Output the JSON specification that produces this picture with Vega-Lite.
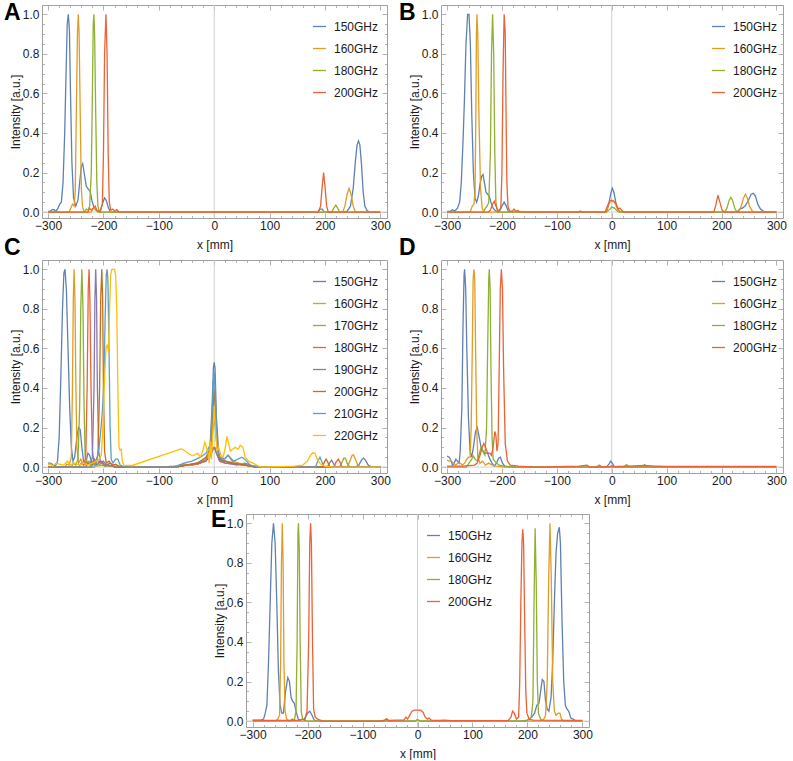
{
  "$schema": "https://vega.github.io/schema/vega-lite/v6.json",
  "padding": {"left": 3, "top": 1, "right": 2, "bottom": 0},
  "background": "white",
  "datasets": {
    "d": [
      {"p":"A","f":"150GHz","x":-300,"y":0.003},{"p":"A","f":"150GHz","x":-296,"y":0.005},{"p":"A","f":"150GHz","x":-292,"y":0.012},{"p":"A","f":"150GHz","x":-289,"y":0.012},{"p":"A","f":"150GHz","x":-286,"y":0.003},{"p":"A","f":"150GHz","x":-282,"y":0.02},{"p":"A","f":"150GHz","x":-279,"y":0.04},{"p":"A","f":"150GHz","x":-276,"y":0.05},{"p":"A","f":"150GHz","x":-273,"y":0.15},{"p":"A","f":"150GHz","x":-270,"y":0.4},{"p":"A","f":"150GHz","x":-268,"y":0.65},{"p":"A","f":"150GHz","x":-265.5,"y":0.95},{"p":"A","f":"150GHz","x":-263.5,"y":1},{"p":"A","f":"150GHz","x":-261.5,"y":0.92},{"p":"A","f":"150GHz","x":-259.5,"y":0.6},{"p":"A","f":"150GHz","x":-257,"y":0.25},{"p":"A","f":"150GHz","x":-254,"y":0.07},{"p":"A","f":"150GHz","x":-250,"y":0.03},{"p":"A","f":"150GHz","x":-246,"y":0.06},{"p":"A","f":"150GHz","x":-243,"y":0.15},{"p":"A","f":"150GHz","x":-240,"y":0.23},{"p":"A","f":"150GHz","x":-237.5,"y":0.245},{"p":"A","f":"150GHz","x":-235,"y":0.2},{"p":"A","f":"150GHz","x":-231,"y":0.13},{"p":"A","f":"150GHz","x":-227,"y":0.115},{"p":"A","f":"150GHz","x":-224,"y":0.105},{"p":"A","f":"150GHz","x":-221,"y":0.06},{"p":"A","f":"150GHz","x":-217,"y":0.02},{"p":"A","f":"150GHz","x":-212,"y":0.005},{"p":"A","f":"150GHz","x":-206,"y":0.005},{"p":"A","f":"150GHz","x":-202,"y":0.04},{"p":"A","f":"150GHz","x":-198,"y":0.072},{"p":"A","f":"150GHz","x":-195,"y":0.06},{"p":"A","f":"150GHz","x":-191,"y":0.02},{"p":"A","f":"150GHz","x":-187,"y":0},{"p":"A","f":"150GHz","x":187,"y":0},{"p":"A","f":"150GHz","x":191,"y":0.015},{"p":"A","f":"150GHz","x":195,"y":0.015},{"p":"A","f":"150GHz","x":199,"y":0},{"p":"A","f":"150GHz","x":234,"y":0},{"p":"A","f":"150GHz","x":240,"y":0.005},{"p":"A","f":"150GHz","x":246,"y":0.03},{"p":"A","f":"150GHz","x":251,"y":0.12},{"p":"A","f":"150GHz","x":255,"y":0.26},{"p":"A","f":"150GHz","x":258,"y":0.34},{"p":"A","f":"150GHz","x":260.5,"y":0.36},{"p":"A","f":"150GHz","x":263,"y":0.34},{"p":"A","f":"150GHz","x":266,"y":0.24},{"p":"A","f":"150GHz","x":269,"y":0.1},{"p":"A","f":"150GHz","x":272,"y":0.03},{"p":"A","f":"150GHz","x":276,"y":0.008},{"p":"A","f":"150GHz","x":281,"y":0},{"p":"A","f":"150GHz","x":300,"y":0},
      {"p":"A","f":"160GHz","x":-300,"y":0},{"p":"A","f":"160GHz","x":-262,"y":0},{"p":"A","f":"160GHz","x":-259,"y":0.02},{"p":"A","f":"160GHz","x":-256,"y":0.04},{"p":"A","f":"160GHz","x":-253,"y":0.03},{"p":"A","f":"160GHz","x":-251,"y":0.1},{"p":"A","f":"160GHz","x":-249,"y":0.5},{"p":"A","f":"160GHz","x":-247,"y":0.9},{"p":"A","f":"160GHz","x":-245.5,"y":1},{"p":"A","f":"160GHz","x":-244,"y":0.9},{"p":"A","f":"160GHz","x":-242,"y":0.5},{"p":"A","f":"160GHz","x":-240,"y":0.12},{"p":"A","f":"160GHz","x":-238,"y":0.03},{"p":"A","f":"160GHz","x":-235,"y":0},{"p":"A","f":"160GHz","x":-222,"y":0},{"p":"A","f":"160GHz","x":-218,"y":0.02},{"p":"A","f":"160GHz","x":-214,"y":0.015},{"p":"A","f":"160GHz","x":-210,"y":0},{"p":"A","f":"160GHz","x":232,"y":0},{"p":"A","f":"160GHz","x":236,"y":0.03},{"p":"A","f":"160GHz","x":240,"y":0.09},{"p":"A","f":"160GHz","x":243.5,"y":0.12},{"p":"A","f":"160GHz","x":247,"y":0.09},{"p":"A","f":"160GHz","x":251,"y":0.03},{"p":"A","f":"160GHz","x":255,"y":0},{"p":"A","f":"160GHz","x":300,"y":0},
      {"p":"A","f":"180GHz","x":-300,"y":0},{"p":"A","f":"180GHz","x":-235,"y":0},{"p":"A","f":"180GHz","x":-231,"y":0.015},{"p":"A","f":"180GHz","x":-228,"y":0.01},{"p":"A","f":"180GHz","x":-225,"y":0.03},{"p":"A","f":"180GHz","x":-222,"y":0.2},{"p":"A","f":"180GHz","x":-220,"y":0.6},{"p":"A","f":"180GHz","x":-218.5,"y":0.95},{"p":"A","f":"180GHz","x":-217.3,"y":1},{"p":"A","f":"180GHz","x":-216,"y":0.9},{"p":"A","f":"180GHz","x":-214,"y":0.5},{"p":"A","f":"180GHz","x":-212,"y":0.15},{"p":"A","f":"180GHz","x":-210,"y":0.03},{"p":"A","f":"180GHz","x":-207,"y":0},{"p":"A","f":"180GHz","x":212,"y":0},{"p":"A","f":"180GHz","x":216,"y":0.02},{"p":"A","f":"180GHz","x":219.5,"y":0.035},{"p":"A","f":"180GHz","x":223,"y":0.02},{"p":"A","f":"180GHz","x":226,"y":0},{"p":"A","f":"180GHz","x":300,"y":0},
      {"p":"A","f":"200GHz","x":-300,"y":0},{"p":"A","f":"200GHz","x":-228,"y":0},{"p":"A","f":"200GHz","x":-225,"y":0.02},{"p":"A","f":"200GHz","x":-222,"y":0.01},{"p":"A","f":"200GHz","x":-219,"y":0.02},{"p":"A","f":"200GHz","x":-215,"y":0.03},{"p":"A","f":"200GHz","x":-212,"y":0.01},{"p":"A","f":"200GHz","x":-206,"y":0},{"p":"A","f":"200GHz","x":-202,"y":0.04},{"p":"A","f":"200GHz","x":-200,"y":0.3},{"p":"A","f":"200GHz","x":-198,"y":0.8},{"p":"A","f":"200GHz","x":-195.5,"y":1},{"p":"A","f":"200GHz","x":-193.5,"y":0.8},{"p":"A","f":"200GHz","x":-191.5,"y":0.3},{"p":"A","f":"200GHz","x":-189.5,"y":0.05},{"p":"A","f":"200GHz","x":-187,"y":0.01},{"p":"A","f":"200GHz","x":-183,"y":0.015},{"p":"A","f":"200GHz","x":-180,"y":0.005},{"p":"A","f":"200GHz","x":-176,"y":0.012},{"p":"A","f":"200GHz","x":-172,"y":0},{"p":"A","f":"200GHz","x":188,"y":0},{"p":"A","f":"200GHz","x":192,"y":0.03},{"p":"A","f":"200GHz","x":195,"y":0.13},{"p":"A","f":"200GHz","x":197.5,"y":0.2},{"p":"A","f":"200GHz","x":200,"y":0.13},{"p":"A","f":"200GHz","x":203,"y":0.03},{"p":"A","f":"200GHz","x":206,"y":0},{"p":"A","f":"200GHz","x":300,"y":0},

      {"p":"B","f":"150GHz","x":-300,"y":0.003},{"p":"B","f":"150GHz","x":-294,"y":0.005},{"p":"B","f":"150GHz","x":-290,"y":0.012},{"p":"B","f":"150GHz","x":-286,"y":0.005},{"p":"B","f":"150GHz","x":-281,"y":0.02},{"p":"B","f":"150GHz","x":-277,"y":0.05},{"p":"B","f":"150GHz","x":-274,"y":0.15},{"p":"B","f":"150GHz","x":-271,"y":0.35},{"p":"B","f":"150GHz","x":-268.5,"y":0.55},{"p":"B","f":"150GHz","x":-265.5,"y":0.85},{"p":"B","f":"150GHz","x":-262.5,"y":1},{"p":"B","f":"150GHz","x":-260,"y":1},{"p":"B","f":"150GHz","x":-257.5,"y":0.85},{"p":"B","f":"150GHz","x":-255,"y":0.5},{"p":"B","f":"150GHz","x":-252,"y":0.2},{"p":"B","f":"150GHz","x":-249,"y":0.07},{"p":"B","f":"150GHz","x":-246,"y":0.05},{"p":"B","f":"150GHz","x":-243,"y":0.08},{"p":"B","f":"150GHz","x":-240,"y":0.14},{"p":"B","f":"150GHz","x":-237,"y":0.18},{"p":"B","f":"150GHz","x":-234.5,"y":0.19},{"p":"B","f":"150GHz","x":-232,"y":0.15},{"p":"B","f":"150GHz","x":-229,"y":0.1},{"p":"B","f":"150GHz","x":-226,"y":0.09},{"p":"B","f":"150GHz","x":-223,"y":0.08},{"p":"B","f":"150GHz","x":-220,"y":0.05},{"p":"B","f":"150GHz","x":-216,"y":0.02},{"p":"B","f":"150GHz","x":-211,"y":0.005},{"p":"B","f":"150GHz","x":-205,"y":0},{"p":"B","f":"150GHz","x":-200,"y":0.03},{"p":"B","f":"150GHz","x":-196,"y":0.05},{"p":"B","f":"150GHz","x":-192,"y":0.03},{"p":"B","f":"150GHz","x":-188,"y":0},{"p":"B","f":"150GHz","x":-10,"y":0},{"p":"B","f":"150GHz","x":-6,"y":0.03},{"p":"B","f":"150GHz","x":-2,"y":0.09},{"p":"B","f":"150GHz","x":1,"y":0.12},{"p":"B","f":"150GHz","x":4,"y":0.1},{"p":"B","f":"150GHz","x":8,"y":0.04},{"p":"B","f":"150GHz","x":12,"y":0.01},{"p":"B","f":"150GHz","x":16,"y":0},{"p":"B","f":"150GHz","x":228,"y":0},{"p":"B","f":"150GHz","x":233,"y":0.015},{"p":"B","f":"150GHz","x":238,"y":0.02},{"p":"B","f":"150GHz","x":243,"y":0.03},{"p":"B","f":"150GHz","x":249,"y":0.06},{"p":"B","f":"150GHz","x":254,"y":0.09},{"p":"B","f":"150GHz","x":258,"y":0.095},{"p":"B","f":"150GHz","x":262,"y":0.08},{"p":"B","f":"150GHz","x":266,"y":0.04},{"p":"B","f":"150GHz","x":271,"y":0.015},{"p":"B","f":"150GHz","x":276,"y":0.005},{"p":"B","f":"150GHz","x":282,"y":0},{"p":"B","f":"150GHz","x":300,"y":0},
      {"p":"B","f":"160GHz","x":-300,"y":0},{"p":"B","f":"160GHz","x":-258,"y":0},{"p":"B","f":"160GHz","x":-254,"y":0.03},{"p":"B","f":"160GHz","x":-251,"y":0.04},{"p":"B","f":"160GHz","x":-249,"y":0.1},{"p":"B","f":"160GHz","x":-247.5,"y":0.5},{"p":"B","f":"160GHz","x":-246.5,"y":0.9},{"p":"B","f":"160GHz","x":-245.5,"y":1},{"p":"B","f":"160GHz","x":-244,"y":0.9},{"p":"B","f":"160GHz","x":-242,"y":0.5},{"p":"B","f":"160GHz","x":-239,"y":0.12},{"p":"B","f":"160GHz","x":-236,"y":0.02},{"p":"B","f":"160GHz","x":-233,"y":0},{"p":"B","f":"160GHz","x":-10,"y":0},{"p":"B","f":"160GHz","x":-7,"y":0.03},{"p":"B","f":"160GHz","x":-3,"y":0.05},{"p":"B","f":"160GHz","x":3,"y":0.055},{"p":"B","f":"160GHz","x":7,"y":0.04},{"p":"B","f":"160GHz","x":11,"y":0.01},{"p":"B","f":"160GHz","x":15,"y":0},{"p":"B","f":"160GHz","x":231,"y":0},{"p":"B","f":"160GHz","x":236,"y":0.03},{"p":"B","f":"160GHz","x":240,"y":0.07},{"p":"B","f":"160GHz","x":243.5,"y":0.09},{"p":"B","f":"160GHz","x":247,"y":0.07},{"p":"B","f":"160GHz","x":251,"y":0.03},{"p":"B","f":"160GHz","x":256,"y":0.005},{"p":"B","f":"160GHz","x":262,"y":0},{"p":"B","f":"160GHz","x":300,"y":0},
      {"p":"B","f":"180GHz","x":-300,"y":0},{"p":"B","f":"180GHz","x":-234,"y":0},{"p":"B","f":"180GHz","x":-230,"y":0.02},{"p":"B","f":"180GHz","x":-227,"y":0.03},{"p":"B","f":"180GHz","x":-224,"y":0.05},{"p":"B","f":"180GHz","x":-221,"y":0.3},{"p":"B","f":"180GHz","x":-219,"y":0.8},{"p":"B","f":"180GHz","x":-217,"y":1},{"p":"B","f":"180GHz","x":-215,"y":0.8},{"p":"B","f":"180GHz","x":-213,"y":0.3},{"p":"B","f":"180GHz","x":-211,"y":0.05},{"p":"B","f":"180GHz","x":-208,"y":0},{"p":"B","f":"180GHz","x":-10,"y":0},{"p":"B","f":"180GHz","x":-5,"y":0.01},{"p":"B","f":"180GHz","x":0,"y":0.025},{"p":"B","f":"180GHz","x":5,"y":0.02},{"p":"B","f":"180GHz","x":10,"y":0.005},{"p":"B","f":"180GHz","x":14,"y":0},{"p":"B","f":"180GHz","x":206,"y":0},{"p":"B","f":"180GHz","x":210,"y":0.02},{"p":"B","f":"180GHz","x":214,"y":0.06},{"p":"B","f":"180GHz","x":217,"y":0.075},{"p":"B","f":"180GHz","x":220,"y":0.06},{"p":"B","f":"180GHz","x":224,"y":0.02},{"p":"B","f":"180GHz","x":228,"y":0},{"p":"B","f":"180GHz","x":300,"y":0},
      {"p":"B","f":"200GHz","x":-300,"y":0},{"p":"B","f":"200GHz","x":-225,"y":0},{"p":"B","f":"200GHz","x":-221,"y":0.01},{"p":"B","f":"200GHz","x":-217,"y":0.04},{"p":"B","f":"200GHz","x":-214,"y":0.055},{"p":"B","f":"200GHz","x":-211,"y":0.03},{"p":"B","f":"200GHz","x":-207,"y":0.005},{"p":"B","f":"200GHz","x":-202,"y":0.02},{"p":"B","f":"200GHz","x":-200,"y":0.2},{"p":"B","f":"200GHz","x":-198,"y":0.7},{"p":"B","f":"200GHz","x":-196,"y":1},{"p":"B","f":"200GHz","x":-194,"y":0.9},{"p":"B","f":"200GHz","x":-192.5,"y":0.5},{"p":"B","f":"200GHz","x":-191,"y":0.15},{"p":"B","f":"200GHz","x":-189,"y":0.03},{"p":"B","f":"200GHz","x":-186,"y":0.005},{"p":"B","f":"200GHz","x":-181,"y":0.005},{"p":"B","f":"200GHz","x":-178,"y":0.015},{"p":"B","f":"200GHz","x":-175,"y":0.005},{"p":"B","f":"200GHz","x":-171,"y":0.008},{"p":"B","f":"200GHz","x":-167,"y":0},{"p":"B","f":"200GHz","x":-60,"y":0},{"p":"B","f":"200GHz","x":-57,"y":0.005},{"p":"B","f":"200GHz","x":-54,"y":0},{"p":"B","f":"200GHz","x":-12,"y":0},{"p":"B","f":"200GHz","x":-8,"y":0.03},{"p":"B","f":"200GHz","x":-4,"y":0.055},{"p":"B","f":"200GHz","x":0,"y":0.06},{"p":"B","f":"200GHz","x":4,"y":0.055},{"p":"B","f":"200GHz","x":8,"y":0.04},{"p":"B","f":"200GHz","x":12,"y":0.015},{"p":"B","f":"200GHz","x":15,"y":0.02},{"p":"B","f":"200GHz","x":18,"y":0.01},{"p":"B","f":"200GHz","x":22,"y":0},{"p":"B","f":"200GHz","x":186,"y":0},{"p":"B","f":"200GHz","x":190,"y":0.04},{"p":"B","f":"200GHz","x":193.5,"y":0.085},{"p":"B","f":"200GHz","x":197,"y":0.05},{"p":"B","f":"200GHz","x":201,"y":0.01},{"p":"B","f":"200GHz","x":205,"y":0},{"p":"B","f":"200GHz","x":300,"y":0},

      {"p":"C","f":"150GHz","x":-300,"y":0.02},{"p":"C","f":"150GHz","x":-296,"y":0.02},{"p":"C","f":"150GHz","x":-293,"y":0.015},{"p":"C","f":"150GHz","x":-290,"y":0.005},{"p":"C","f":"150GHz","x":-286,"y":0.01},{"p":"C","f":"150GHz","x":-283,"y":0.03},{"p":"C","f":"150GHz","x":-280,"y":0.15},{"p":"C","f":"150GHz","x":-277,"y":0.45},{"p":"C","f":"150GHz","x":-274,"y":0.8},{"p":"C","f":"150GHz","x":-271.5,"y":0.98},{"p":"C","f":"150GHz","x":-269.5,"y":1},{"p":"C","f":"150GHz","x":-267,"y":0.9},{"p":"C","f":"150GHz","x":-264,"y":0.6},{"p":"C","f":"150GHz","x":-261,"y":0.3},{"p":"C","f":"150GHz","x":-258,"y":0.1},{"p":"C","f":"150GHz","x":-255,"y":0.03},{"p":"C","f":"150GHz","x":-252,"y":0.05},{"p":"C","f":"150GHz","x":-248,"y":0.15},{"p":"C","f":"150GHz","x":-245,"y":0.2},{"p":"C","f":"150GHz","x":-242,"y":0.19},{"p":"C","f":"150GHz","x":-239,"y":0.1},{"p":"C","f":"150GHz","x":-236,"y":0.03},{"p":"C","f":"150GHz","x":-232,"y":0.02},{"p":"C","f":"150GHz","x":-228,"y":0.07},{"p":"C","f":"150GHz","x":-225,"y":0.06},{"p":"C","f":"150GHz","x":-221,"y":0.02},{"p":"C","f":"150GHz","x":-216,"y":0.04},{"p":"C","f":"150GHz","x":-212,"y":0.01},{"p":"C","f":"150GHz","x":-207,"y":0.03},{"p":"C","f":"150GHz","x":-203,"y":0.02},{"p":"C","f":"150GHz","x":-198,"y":0.005},{"p":"C","f":"150GHz","x":-192,"y":0.01},{"p":"C","f":"150GHz","x":-185,"y":0.005},{"p":"C","f":"150GHz","x":-175,"y":0},{"p":"C","f":"150GHz","x":-100,"y":0},{"p":"C","f":"150GHz","x":-70,"y":0.005},{"p":"C","f":"150GHz","x":-55,"y":0.015},{"p":"C","f":"150GHz","x":-40,"y":0.01},{"p":"C","f":"150GHz","x":-25,"y":0.02},{"p":"C","f":"150GHz","x":-15,"y":0.04},{"p":"C","f":"150GHz","x":-8,"y":0.08},{"p":"C","f":"150GHz","x":-4,"y":0.3},{"p":"C","f":"150GHz","x":-1.5,"y":0.5},{"p":"C","f":"150GHz","x":0,"y":0.53},{"p":"C","f":"150GHz","x":1.5,"y":0.5},{"p":"C","f":"150GHz","x":4,"y":0.25},{"p":"C","f":"150GHz","x":8,"y":0.07},{"p":"C","f":"150GHz","x":12,"y":0.03},{"p":"C","f":"150GHz","x":20,"y":0.03},{"p":"C","f":"150GHz","x":28,"y":0.02},{"p":"C","f":"150GHz","x":40,"y":0.01},{"p":"C","f":"150GHz","x":55,"y":0.02},{"p":"C","f":"150GHz","x":70,"y":0.005},{"p":"C","f":"150GHz","x":90,"y":0},{"p":"C","f":"150GHz","x":255,"y":0},{"p":"C","f":"150GHz","x":261,"y":0.01},{"p":"C","f":"150GHz","x":266,"y":0.035},{"p":"C","f":"150GHz","x":269.5,"y":0.045},{"p":"C","f":"150GHz","x":273,"y":0.035},{"p":"C","f":"150GHz","x":278,"y":0.01},{"p":"C","f":"150GHz","x":284,"y":0},{"p":"C","f":"150GHz","x":300,"y":0},
      {"p":"C","f":"160GHz","x":-300,"y":0},{"p":"C","f":"160GHz","x":-270,"y":0},{"p":"C","f":"160GHz","x":-266,"y":0.015},{"p":"C","f":"160GHz","x":-262,"y":0.01},{"p":"C","f":"160GHz","x":-258,"y":0.05},{"p":"C","f":"160GHz","x":-256,"y":0.4},{"p":"C","f":"160GHz","x":-254.5,"y":0.85},{"p":"C","f":"160GHz","x":-253,"y":1},{"p":"C","f":"160GHz","x":-251.5,"y":0.85},{"p":"C","f":"160GHz","x":-250,"y":0.45},{"p":"C","f":"160GHz","x":-248,"y":0.1},{"p":"C","f":"160GHz","x":-245,"y":0.02},{"p":"C","f":"160GHz","x":-241,"y":0.04},{"p":"C","f":"160GHz","x":-238,"y":0.02},{"p":"C","f":"160GHz","x":-233,"y":0.01},{"p":"C","f":"160GHz","x":-228,"y":0.03},{"p":"C","f":"160GHz","x":-224,"y":0.01},{"p":"C","f":"160GHz","x":-218,"y":0.02},{"p":"C","f":"160GHz","x":-213,"y":0.005},{"p":"C","f":"160GHz","x":-200,"y":0.01},{"p":"C","f":"160GHz","x":-150,"y":0},{"p":"C","f":"160GHz","x":-80,"y":0},{"p":"C","f":"160GHz","x":-60,"y":0.01},{"p":"C","f":"160GHz","x":-40,"y":0.015},{"p":"C","f":"160GHz","x":-20,"y":0.03},{"p":"C","f":"160GHz","x":-10,"y":0.06},{"p":"C","f":"160GHz","x":-4,"y":0.2},{"p":"C","f":"160GHz","x":-1,"y":0.38},{"p":"C","f":"160GHz","x":0.5,"y":0.4},{"p":"C","f":"160GHz","x":2,"y":0.3},{"p":"C","f":"160GHz","x":5,"y":0.1},{"p":"C","f":"160GHz","x":10,"y":0.05},{"p":"C","f":"160GHz","x":18,"y":0.04},{"p":"C","f":"160GHz","x":25,"y":0.06},{"p":"C","f":"160GHz","x":32,"y":0.03},{"p":"C","f":"160GHz","x":45,"y":0.02},{"p":"C","f":"160GHz","x":60,"y":0.01},{"p":"C","f":"160GHz","x":80,"y":0},{"p":"C","f":"160GHz","x":240,"y":0},{"p":"C","f":"160GHz","x":245,"y":0.03},{"p":"C","f":"160GHz","x":249,"y":0.06},{"p":"C","f":"160GHz","x":251.5,"y":0.062},{"p":"C","f":"160GHz","x":255,"y":0.04},{"p":"C","f":"160GHz","x":259,"y":0.01},{"p":"C","f":"160GHz","x":265,"y":0},{"p":"C","f":"160GHz","x":300,"y":0},
      {"p":"C","f":"170GHz","x":-300,"y":0},{"p":"C","f":"170GHz","x":-258,"y":0},{"p":"C","f":"170GHz","x":-254,"y":0.02},{"p":"C","f":"170GHz","x":-250,"y":0.01},{"p":"C","f":"170GHz","x":-246,"y":0.04},{"p":"C","f":"170GHz","x":-243,"y":0.3},{"p":"C","f":"170GHz","x":-241,"y":0.8},{"p":"C","f":"170GHz","x":-239,"y":1},{"p":"C","f":"170GHz","x":-237,"y":0.8},{"p":"C","f":"170GHz","x":-235,"y":0.3},{"p":"C","f":"170GHz","x":-233,"y":0.05},{"p":"C","f":"170GHz","x":-229,"y":0.02},{"p":"C","f":"170GHz","x":-224,"y":0.03},{"p":"C","f":"170GHz","x":-219,"y":0.01},{"p":"C","f":"170GHz","x":-212,"y":0.02},{"p":"C","f":"170GHz","x":-205,"y":0.01},{"p":"C","f":"170GHz","x":-195,"y":0.005},{"p":"C","f":"170GHz","x":-150,"y":0},{"p":"C","f":"170GHz","x":-70,"y":0},{"p":"C","f":"170GHz","x":-50,"y":0.01},{"p":"C","f":"170GHz","x":-30,"y":0.02},{"p":"C","f":"170GHz","x":-15,"y":0.04},{"p":"C","f":"170GHz","x":-6,"y":0.1},{"p":"C","f":"170GHz","x":-2,"y":0.2},{"p":"C","f":"170GHz","x":0,"y":0.235},{"p":"C","f":"170GHz","x":2,"y":0.2},{"p":"C","f":"170GHz","x":5,"y":0.1},{"p":"C","f":"170GHz","x":10,"y":0.04},{"p":"C","f":"170GHz","x":20,"y":0.03},{"p":"C","f":"170GHz","x":35,"y":0.02},{"p":"C","f":"170GHz","x":55,"y":0.015},{"p":"C","f":"170GHz","x":75,"y":0},{"p":"C","f":"170GHz","x":226,"y":0},{"p":"C","f":"170GHz","x":230,"y":0.02},{"p":"C","f":"170GHz","x":234,"y":0.045},{"p":"C","f":"170GHz","x":237,"y":0.045},{"p":"C","f":"170GHz","x":240,"y":0.02},{"p":"C","f":"170GHz","x":245,"y":0},{"p":"C","f":"170GHz","x":300,"y":0},
      {"p":"C","f":"180GHz","x":-300,"y":0},{"p":"C","f":"180GHz","x":-245,"y":0},{"p":"C","f":"180GHz","x":-240,"y":0.02},{"p":"C","f":"180GHz","x":-236,"y":0.01},{"p":"C","f":"180GHz","x":-232,"y":0.05},{"p":"C","f":"180GHz","x":-229.5,"y":0.4},{"p":"C","f":"180GHz","x":-227.5,"y":0.9},{"p":"C","f":"180GHz","x":-226,"y":1},{"p":"C","f":"180GHz","x":-224.5,"y":0.85},{"p":"C","f":"180GHz","x":-222.5,"y":0.4},{"p":"C","f":"180GHz","x":-220,"y":0.08},{"p":"C","f":"180GHz","x":-217,"y":0.02},{"p":"C","f":"180GHz","x":-212,"y":0.04},{"p":"C","f":"180GHz","x":-208,"y":0.02},{"p":"C","f":"180GHz","x":-203,"y":0.03},{"p":"C","f":"180GHz","x":-198,"y":0.01},{"p":"C","f":"180GHz","x":-190,"y":0.01},{"p":"C","f":"180GHz","x":-180,"y":0},{"p":"C","f":"180GHz","x":-70,"y":0},{"p":"C","f":"180GHz","x":-50,"y":0.01},{"p":"C","f":"180GHz","x":-30,"y":0.015},{"p":"C","f":"180GHz","x":-15,"y":0.03},{"p":"C","f":"180GHz","x":-6,"y":0.07},{"p":"C","f":"180GHz","x":-2,"y":0.1},{"p":"C","f":"180GHz","x":1,"y":0.1},{"p":"C","f":"180GHz","x":4,"y":0.07},{"p":"C","f":"180GHz","x":10,"y":0.03},{"p":"C","f":"180GHz","x":20,"y":0.02},{"p":"C","f":"180GHz","x":35,"y":0.015},{"p":"C","f":"180GHz","x":55,"y":0.01},{"p":"C","f":"180GHz","x":75,"y":0},{"p":"C","f":"180GHz","x":216,"y":0},{"p":"C","f":"180GHz","x":220,"y":0.025},{"p":"C","f":"180GHz","x":224,"y":0.04},{"p":"C","f":"180GHz","x":227,"y":0.025},{"p":"C","f":"180GHz","x":231,"y":0},{"p":"C","f":"180GHz","x":300,"y":0},
      {"p":"C","f":"190GHz","x":-300,"y":0},{"p":"C","f":"190GHz","x":-232,"y":0},{"p":"C","f":"190GHz","x":-228,"y":0.02},{"p":"C","f":"190GHz","x":-224,"y":0.01},{"p":"C","f":"190GHz","x":-220,"y":0.05},{"p":"C","f":"190GHz","x":-217,"y":0.4},{"p":"C","f":"190GHz","x":-215.5,"y":0.85},{"p":"C","f":"190GHz","x":-214,"y":1},{"p":"C","f":"190GHz","x":-212.5,"y":0.85},{"p":"C","f":"190GHz","x":-211,"y":0.4},{"p":"C","f":"190GHz","x":-208.5,"y":0.08},{"p":"C","f":"190GHz","x":-205,"y":0.02},{"p":"C","f":"190GHz","x":-200,"y":0.03},{"p":"C","f":"190GHz","x":-195,"y":0.01},{"p":"C","f":"190GHz","x":-188,"y":0.02},{"p":"C","f":"190GHz","x":-180,"y":0},{"p":"C","f":"190GHz","x":-70,"y":0},{"p":"C","f":"190GHz","x":-50,"y":0.01},{"p":"C","f":"190GHz","x":-30,"y":0.02},{"p":"C","f":"190GHz","x":-15,"y":0.03},{"p":"C","f":"190GHz","x":-6,"y":0.06},{"p":"C","f":"190GHz","x":-2,"y":0.09},{"p":"C","f":"190GHz","x":1,"y":0.095},{"p":"C","f":"190GHz","x":4,"y":0.07},{"p":"C","f":"190GHz","x":10,"y":0.03},{"p":"C","f":"190GHz","x":20,"y":0.02},{"p":"C","f":"190GHz","x":35,"y":0.015},{"p":"C","f":"190GHz","x":55,"y":0.01},{"p":"C","f":"190GHz","x":75,"y":0},{"p":"C","f":"190GHz","x":204,"y":0},{"p":"C","f":"190GHz","x":208,"y":0.02},{"p":"C","f":"190GHz","x":212,"y":0.035},{"p":"C","f":"190GHz","x":215,"y":0.02},{"p":"C","f":"190GHz","x":219,"y":0},{"p":"C","f":"190GHz","x":300,"y":0},
      {"p":"C","f":"200GHz","x":-300,"y":0},{"p":"C","f":"200GHz","x":-222,"y":0},{"p":"C","f":"200GHz","x":-218,"y":0.03},{"p":"C","f":"200GHz","x":-214,"y":0.02},{"p":"C","f":"200GHz","x":-210,"y":0.06},{"p":"C","f":"200GHz","x":-207,"y":0.4},{"p":"C","f":"200GHz","x":-205,"y":0.85},{"p":"C","f":"200GHz","x":-203,"y":1},{"p":"C","f":"200GHz","x":-201.5,"y":0.85},{"p":"C","f":"200GHz","x":-200,"y":0.4},{"p":"C","f":"200GHz","x":-198,"y":0.08},{"p":"C","f":"200GHz","x":-195,"y":0.02},{"p":"C","f":"200GHz","x":-190,"y":0.03},{"p":"C","f":"200GHz","x":-184,"y":0.01},{"p":"C","f":"200GHz","x":-178,"y":0.015},{"p":"C","f":"200GHz","x":-170,"y":0},{"p":"C","f":"200GHz","x":-70,"y":0},{"p":"C","f":"200GHz","x":-50,"y":0.01},{"p":"C","f":"200GHz","x":-30,"y":0.02},{"p":"C","f":"200GHz","x":-15,"y":0.05},{"p":"C","f":"200GHz","x":-6,"y":0.1},{"p":"C","f":"200GHz","x":-2,"y":0.3},{"p":"C","f":"200GHz","x":0.5,"y":0.39},{"p":"C","f":"200GHz","x":2,"y":0.3},{"p":"C","f":"200GHz","x":5,"y":0.1},{"p":"C","f":"200GHz","x":10,"y":0.04},{"p":"C","f":"200GHz","x":20,"y":0.03},{"p":"C","f":"200GHz","x":35,"y":0.02},{"p":"C","f":"200GHz","x":55,"y":0.01},{"p":"C","f":"200GHz","x":75,"y":0},{"p":"C","f":"200GHz","x":195,"y":0},{"p":"C","f":"200GHz","x":199,"y":0.025},{"p":"C","f":"200GHz","x":202,"y":0.04},{"p":"C","f":"200GHz","x":205,"y":0.025},{"p":"C","f":"200GHz","x":209,"y":0},{"p":"C","f":"200GHz","x":300,"y":0},
      {"p":"C","f":"210GHz","x":-300,"y":0},{"p":"C","f":"210GHz","x":-216,"y":0},{"p":"C","f":"210GHz","x":-212,"y":0.04},{"p":"C","f":"210GHz","x":-208,"y":0.1},{"p":"C","f":"210GHz","x":-205,"y":0.18},{"p":"C","f":"210GHz","x":-202,"y":0.28},{"p":"C","f":"210GHz","x":-199,"y":0.45},{"p":"C","f":"210GHz","x":-197,"y":0.75},{"p":"C","f":"210GHz","x":-195,"y":0.97},{"p":"C","f":"210GHz","x":-193.5,"y":1},{"p":"C","f":"210GHz","x":-192,"y":0.95},{"p":"C","f":"210GHz","x":-190,"y":0.6},{"p":"C","f":"210GHz","x":-188,"y":0.2},{"p":"C","f":"210GHz","x":-186,"y":0.04},{"p":"C","f":"210GHz","x":-183,"y":0.02},{"p":"C","f":"210GHz","x":-178,"y":0.04},{"p":"C","f":"210GHz","x":-174,"y":0.04},{"p":"C","f":"210GHz","x":-170,"y":0.01},{"p":"C","f":"210GHz","x":-160,"y":0},{"p":"C","f":"210GHz","x":-70,"y":0},{"p":"C","f":"210GHz","x":-55,"y":0.02},{"p":"C","f":"210GHz","x":-40,"y":0.03},{"p":"C","f":"210GHz","x":-25,"y":0.05},{"p":"C","f":"210GHz","x":-15,"y":0.07},{"p":"C","f":"210GHz","x":-6,"y":0.12},{"p":"C","f":"210GHz","x":-2,"y":0.4},{"p":"C","f":"210GHz","x":0,"y":0.48},{"p":"C","f":"210GHz","x":2,"y":0.35},{"p":"C","f":"210GHz","x":5,"y":0.12},{"p":"C","f":"210GHz","x":10,"y":0.05},{"p":"C","f":"210GHz","x":18,"y":0.04},{"p":"C","f":"210GHz","x":25,"y":0.06},{"p":"C","f":"210GHz","x":35,"y":0.03},{"p":"C","f":"210GHz","x":50,"y":0.05},{"p":"C","f":"210GHz","x":55,"y":0.04},{"p":"C","f":"210GHz","x":65,"y":0.01},{"p":"C","f":"210GHz","x":80,"y":0},{"p":"C","f":"210GHz","x":183,"y":0},{"p":"C","f":"210GHz","x":187,"y":0.03},{"p":"C","f":"210GHz","x":191,"y":0.05},{"p":"C","f":"210GHz","x":194,"y":0.03},{"p":"C","f":"210GHz","x":198,"y":0},{"p":"C","f":"210GHz","x":300,"y":0},
      {"p":"C","f":"220GHz","x":-300,"y":0.01},{"p":"C","f":"220GHz","x":-296,"y":0.015},{"p":"C","f":"220GHz","x":-292,"y":0.005},{"p":"C","f":"220GHz","x":-286,"y":0.02},{"p":"C","f":"220GHz","x":-280,"y":0.015},{"p":"C","f":"220GHz","x":-272,"y":0.01},{"p":"C","f":"220GHz","x":-265,"y":0.03},{"p":"C","f":"220GHz","x":-260,"y":0.01},{"p":"C","f":"220GHz","x":-252,"y":0.02},{"p":"C","f":"220GHz","x":-244,"y":0.01},{"p":"C","f":"220GHz","x":-236,"y":0.02},{"p":"C","f":"220GHz","x":-228,"y":0.01},{"p":"C","f":"220GHz","x":-220,"y":0.02},{"p":"C","f":"220GHz","x":-213,"y":0.03},{"p":"C","f":"220GHz","x":-208,"y":0.04},{"p":"C","f":"220GHz","x":-204,"y":0.06},{"p":"C","f":"220GHz","x":-201,"y":0.2},{"p":"C","f":"220GHz","x":-198,"y":0.45},{"p":"C","f":"220GHz","x":-195.5,"y":0.6},{"p":"C","f":"220GHz","x":-193,"y":0.62},{"p":"C","f":"220GHz","x":-191,"y":0.58},{"p":"C","f":"220GHz","x":-189,"y":0.8},{"p":"C","f":"220GHz","x":-187,"y":0.97},{"p":"C","f":"220GHz","x":-185,"y":1},{"p":"C","f":"220GHz","x":-180,"y":1},{"p":"C","f":"220GHz","x":-178,"y":0.97},{"p":"C","f":"220GHz","x":-176,"y":0.8},{"p":"C","f":"220GHz","x":-174,"y":0.4},{"p":"C","f":"220GHz","x":-172,"y":0.1},{"p":"C","f":"220GHz","x":-170,"y":0.085},{"p":"C","f":"220GHz","x":-168,"y":0.09},{"p":"C","f":"220GHz","x":-166,"y":0.03},{"p":"C","f":"220GHz","x":-163,"y":0.01},{"p":"C","f":"220GHz","x":-148,"y":0.008},{"p":"C","f":"220GHz","x":-60,"y":0.092},{"p":"C","f":"220GHz","x":-57,"y":0.09},{"p":"C","f":"220GHz","x":-52,"y":0.08},{"p":"C","f":"220GHz","x":-47,"y":0.07},{"p":"C","f":"220GHz","x":-42,"y":0.06},{"p":"C","f":"220GHz","x":-36,"y":0.06},{"p":"C","f":"220GHz","x":-30,"y":0.07},{"p":"C","f":"220GHz","x":-25,"y":0.05},{"p":"C","f":"220GHz","x":-20,"y":0.09},{"p":"C","f":"220GHz","x":-17,"y":0.125},{"p":"C","f":"220GHz","x":-14,"y":0.1},{"p":"C","f":"220GHz","x":-11,"y":0.07},{"p":"C","f":"220GHz","x":-9,"y":0.02},{"p":"C","f":"220GHz","x":-7,"y":0.13},{"p":"C","f":"220GHz","x":-5,"y":0.04},{"p":"C","f":"220GHz","x":-2,"y":0.2},{"p":"C","f":"220GHz","x":0,"y":0.31},{"p":"C","f":"220GHz","x":2,"y":0.2},{"p":"C","f":"220GHz","x":5,"y":0.08},{"p":"C","f":"220GHz","x":8,"y":0.1},{"p":"C","f":"220GHz","x":12,"y":0.06},{"p":"C","f":"220GHz","x":16,"y":0.05},{"p":"C","f":"220GHz","x":20,"y":0.1},{"p":"C","f":"220GHz","x":23,"y":0.155},{"p":"C","f":"220GHz","x":26,"y":0.12},{"p":"C","f":"220GHz","x":29,"y":0.08},{"p":"C","f":"220GHz","x":33,"y":0.09},{"p":"C","f":"220GHz","x":38,"y":0.1},{"p":"C","f":"220GHz","x":43,"y":0.09},{"p":"C","f":"220GHz","x":47,"y":0.11},{"p":"C","f":"220GHz","x":52,"y":0.1},{"p":"C","f":"220GHz","x":56,"y":0.05},{"p":"C","f":"220GHz","x":62,"y":0.03},{"p":"C","f":"220GHz","x":70,"y":0.02},{"p":"C","f":"220GHz","x":80,"y":0.005},{"p":"C","f":"220GHz","x":86,"y":0},{"p":"C","f":"220GHz","x":145,"y":0.005},{"p":"C","f":"220GHz","x":160,"y":0.01},{"p":"C","f":"220GHz","x":168,"y":0.03},{"p":"C","f":"220GHz","x":174,"y":0.06},{"p":"C","f":"220GHz","x":178,"y":0.072},{"p":"C","f":"220GHz","x":182,"y":0.07},{"p":"C","f":"220GHz","x":186,"y":0.04},{"p":"C","f":"220GHz","x":192,"y":0.015},{"p":"C","f":"220GHz","x":200,"y":0.005},{"p":"C","f":"220GHz","x":215,"y":0},{"p":"C","f":"220GHz","x":300,"y":0},

      {"p":"D","f":"150GHz","x":-300,"y":0.055},{"p":"D","f":"150GHz","x":-296,"y":0.05},{"p":"D","f":"150GHz","x":-293,"y":0.035},{"p":"D","f":"150GHz","x":-290,"y":0.01},{"p":"D","f":"150GHz","x":-287,"y":0.02},{"p":"D","f":"150GHz","x":-284,"y":0.04},{"p":"D","f":"150GHz","x":-281,"y":0.03},{"p":"D","f":"150GHz","x":-278,"y":0.02},{"p":"D","f":"150GHz","x":-276,"y":0.08},{"p":"D","f":"150GHz","x":-273,"y":0.3},{"p":"D","f":"150GHz","x":-271,"y":0.7},{"p":"D","f":"150GHz","x":-269,"y":0.97},{"p":"D","f":"150GHz","x":-268,"y":1},{"p":"D","f":"150GHz","x":-266,"y":0.9},{"p":"D","f":"150GHz","x":-264,"y":0.6},{"p":"D","f":"150GHz","x":-261,"y":0.25},{"p":"D","f":"150GHz","x":-258,"y":0.08},{"p":"D","f":"150GHz","x":-255,"y":0.05},{"p":"D","f":"150GHz","x":-252,"y":0.1},{"p":"D","f":"150GHz","x":-248,"y":0.18},{"p":"D","f":"150GHz","x":-245,"y":0.2},{"p":"D","f":"150GHz","x":-242,"y":0.16},{"p":"D","f":"150GHz","x":-238,"y":0.1},{"p":"D","f":"150GHz","x":-234,"y":0.08},{"p":"D","f":"150GHz","x":-230,"y":0.07},{"p":"D","f":"150GHz","x":-226,"y":0.07},{"p":"D","f":"150GHz","x":-222,"y":0.04},{"p":"D","f":"150GHz","x":-218,"y":0.02},{"p":"D","f":"150GHz","x":-214,"y":0.005},{"p":"D","f":"150GHz","x":-210,"y":0.02},{"p":"D","f":"150GHz","x":-206,"y":0.045},{"p":"D","f":"150GHz","x":-203,"y":0.05},{"p":"D","f":"150GHz","x":-199,"y":0.02},{"p":"D","f":"150GHz","x":-195,"y":0.005},{"p":"D","f":"150GHz","x":-185,"y":0},{"p":"D","f":"150GHz","x":-10,"y":0},{"p":"D","f":"150GHz","x":-5,"y":0.015},{"p":"D","f":"150GHz","x":-2,"y":0.03},{"p":"D","f":"150GHz","x":1,"y":0.02},{"p":"D","f":"150GHz","x":5,"y":0},{"p":"D","f":"150GHz","x":300,"y":0},
      {"p":"D","f":"160GHz","x":-300,"y":0.035},{"p":"D","f":"160GHz","x":-296,"y":0.03},{"p":"D","f":"160GHz","x":-292,"y":0.03},{"p":"D","f":"160GHz","x":-288,"y":0.02},{"p":"D","f":"160GHz","x":-284,"y":0.01},{"p":"D","f":"160GHz","x":-280,"y":0.02},{"p":"D","f":"160GHz","x":-276,"y":0.02},{"p":"D","f":"160GHz","x":-272,"y":0.01},{"p":"D","f":"160GHz","x":-268,"y":0.02},{"p":"D","f":"160GHz","x":-264,"y":0.04},{"p":"D","f":"160GHz","x":-261,"y":0.05},{"p":"D","f":"160GHz","x":-258,"y":0.05},{"p":"D","f":"160GHz","x":-256,"y":0.2},{"p":"D","f":"160GHz","x":-254,"y":0.6},{"p":"D","f":"160GHz","x":-252.5,"y":0.95},{"p":"D","f":"160GHz","x":-251,"y":1},{"p":"D","f":"160GHz","x":-249.5,"y":0.95},{"p":"D","f":"160GHz","x":-248,"y":0.6},{"p":"D","f":"160GHz","x":-246,"y":0.2},{"p":"D","f":"160GHz","x":-244,"y":0.05},{"p":"D","f":"160GHz","x":-240,"y":0.02},{"p":"D","f":"160GHz","x":-235,"y":0.03},{"p":"D","f":"160GHz","x":-230,"y":0.01},{"p":"D","f":"160GHz","x":-224,"y":0.02},{"p":"D","f":"160GHz","x":-218,"y":0.01},{"p":"D","f":"160GHz","x":-210,"y":0.005},{"p":"D","f":"160GHz","x":-195,"y":0},{"p":"D","f":"160GHz","x":300,"y":0},
      {"p":"D","f":"180GHz","x":-300,"y":0},{"p":"D","f":"180GHz","x":-265,"y":0},{"p":"D","f":"180GHz","x":-260,"y":0.02},{"p":"D","f":"180GHz","x":-255,"y":0.04},{"p":"D","f":"180GHz","x":-252,"y":0.055},{"p":"D","f":"180GHz","x":-249,"y":0.04},{"p":"D","f":"180GHz","x":-245,"y":0.03},{"p":"D","f":"180GHz","x":-241,"y":0.07},{"p":"D","f":"180GHz","x":-238,"y":0.1},{"p":"D","f":"180GHz","x":-235,"y":0.08},{"p":"D","f":"180GHz","x":-231,"y":0.06},{"p":"D","f":"180GHz","x":-228,"y":0.2},{"p":"D","f":"180GHz","x":-226,"y":0.6},{"p":"D","f":"180GHz","x":-224,"y":0.95},{"p":"D","f":"180GHz","x":-223,"y":1},{"p":"D","f":"180GHz","x":-221.5,"y":0.9},{"p":"D","f":"180GHz","x":-220,"y":0.5},{"p":"D","f":"180GHz","x":-218,"y":0.15},{"p":"D","f":"180GHz","x":-216,"y":0.04},{"p":"D","f":"180GHz","x":-213,"y":0.03},{"p":"D","f":"180GHz","x":-210,"y":0.02},{"p":"D","f":"180GHz","x":-205,"y":0.01},{"p":"D","f":"180GHz","x":-195,"y":0.005},{"p":"D","f":"180GHz","x":-180,"y":0},{"p":"D","f":"180GHz","x":-30,"y":0},{"p":"D","f":"180GHz","x":-22,"y":0.01},{"p":"D","f":"180GHz","x":-18,"y":0},{"p":"D","f":"180GHz","x":-5,"y":0},{"p":"D","f":"180GHz","x":0,"y":0.008},{"p":"D","f":"180GHz","x":5,"y":0},{"p":"D","f":"180GHz","x":22,"y":0},{"p":"D","f":"180GHz","x":27,"y":0.012},{"p":"D","f":"180GHz","x":32,"y":0},{"p":"D","f":"180GHz","x":55,"y":0},{"p":"D","f":"180GHz","x":60,"y":0.012},{"p":"D","f":"180GHz","x":65,"y":0},{"p":"D","f":"180GHz","x":300,"y":0},
      {"p":"D","f":"200GHz","x":-300,"y":0.005},{"p":"D","f":"200GHz","x":-270,"y":0.005},{"p":"D","f":"200GHz","x":-250,"y":0.01},{"p":"D","f":"200GHz","x":-245,"y":0.02},{"p":"D","f":"200GHz","x":-240,"y":0.06},{"p":"D","f":"200GHz","x":-236,"y":0.1},{"p":"D","f":"200GHz","x":-233,"y":0.12},{"p":"D","f":"200GHz","x":-230,"y":0.1},{"p":"D","f":"200GHz","x":-226,"y":0.07},{"p":"D","f":"200GHz","x":-222,"y":0.07},{"p":"D","f":"200GHz","x":-219,"y":0.06},{"p":"D","f":"200GHz","x":-216,"y":0.1},{"p":"D","f":"200GHz","x":-213,"y":0.18},{"p":"D","f":"200GHz","x":-211,"y":0.16},{"p":"D","f":"200GHz","x":-209,"y":0.08},{"p":"D","f":"200GHz","x":-207,"y":0.12},{"p":"D","f":"200GHz","x":-205,"y":0.5},{"p":"D","f":"200GHz","x":-203,"y":0.9},{"p":"D","f":"200GHz","x":-201,"y":1},{"p":"D","f":"200GHz","x":-199,"y":0.9},{"p":"D","f":"200GHz","x":-197,"y":0.5},{"p":"D","f":"200GHz","x":-194,"y":0.12},{"p":"D","f":"200GHz","x":-190,"y":0.03},{"p":"D","f":"200GHz","x":-185,"y":0.01},{"p":"D","f":"200GHz","x":-170,"y":0.005},{"p":"D","f":"200GHz","x":-140,"y":0},{"p":"D","f":"200GHz","x":-60,"y":0.005},{"p":"D","f":"200GHz","x":-45,"y":0.01},{"p":"D","f":"200GHz","x":-40,"y":0},{"p":"D","f":"200GHz","x":30,"y":0.005},{"p":"D","f":"200GHz","x":60,"y":0.008},{"p":"D","f":"200GHz","x":80,"y":0.005},{"p":"D","f":"200GHz","x":100,"y":0.003},{"p":"D","f":"200GHz","x":300,"y":0.003},

      {"p":"E","f":"150GHz","x":-300,"y":0.005},{"p":"E","f":"150GHz","x":-285,"y":0.005},{"p":"E","f":"150GHz","x":-280,"y":0.01},{"p":"E","f":"150GHz","x":-277,"y":0.04},{"p":"E","f":"150GHz","x":-274,"y":0.08},{"p":"E","f":"150GHz","x":-271,"y":0.3},{"p":"E","f":"150GHz","x":-268,"y":0.6},{"p":"E","f":"150GHz","x":-265,"y":0.9},{"p":"E","f":"150GHz","x":-262,"y":1},{"p":"E","f":"150GHz","x":-259,"y":0.9},{"p":"E","f":"150GHz","x":-256,"y":0.6},{"p":"E","f":"150GHz","x":-253,"y":0.25},{"p":"E","f":"150GHz","x":-250,"y":0.08},{"p":"E","f":"150GHz","x":-247,"y":0.04},{"p":"E","f":"150GHz","x":-244,"y":0.04},{"p":"E","f":"150GHz","x":-240,"y":0.15},{"p":"E","f":"150GHz","x":-236,"y":0.22},{"p":"E","f":"150GHz","x":-233,"y":0.2},{"p":"E","f":"150GHz","x":-230,"y":0.12},{"p":"E","f":"150GHz","x":-227,"y":0.1},{"p":"E","f":"150GHz","x":-224,"y":0.09},{"p":"E","f":"150GHz","x":-221,"y":0.05},{"p":"E","f":"150GHz","x":-217,"y":0.01},{"p":"E","f":"150GHz","x":-213,"y":0.005},{"p":"E","f":"150GHz","x":-206,"y":0.01},{"p":"E","f":"150GHz","x":-200,"y":0.04},{"p":"E","f":"150GHz","x":-196,"y":0.05},{"p":"E","f":"150GHz","x":-192,"y":0.03},{"p":"E","f":"150GHz","x":-188,"y":0.005},{"p":"E","f":"150GHz","x":-183,"y":0},{"p":"E","f":"150GHz","x":-5,"y":0},{"p":"E","f":"150GHz","x":0,"y":0.005},{"p":"E","f":"150GHz","x":5,"y":0},{"p":"E","f":"150GHz","x":190,"y":0},{"p":"E","f":"150GHz","x":200,"y":0.005},{"p":"E","f":"150GHz","x":208,"y":0.02},{"p":"E","f":"150GHz","x":213,"y":0.04},{"p":"E","f":"150GHz","x":217,"y":0.08},{"p":"E","f":"150GHz","x":221,"y":0.09},{"p":"E","f":"150GHz","x":224,"y":0.15},{"p":"E","f":"150GHz","x":227,"y":0.21},{"p":"E","f":"150GHz","x":230,"y":0.2},{"p":"E","f":"150GHz","x":233,"y":0.1},{"p":"E","f":"150GHz","x":236,"y":0.06},{"p":"E","f":"150GHz","x":239,"y":0.05},{"p":"E","f":"150GHz","x":243,"y":0.12},{"p":"E","f":"150GHz","x":246,"y":0.3},{"p":"E","f":"150GHz","x":249,"y":0.6},{"p":"E","f":"150GHz","x":252,"y":0.85},{"p":"E","f":"150GHz","x":255,"y":0.95},{"p":"E","f":"150GHz","x":258,"y":0.98},{"p":"E","f":"150GHz","x":260,"y":0.9},{"p":"E","f":"150GHz","x":263,"y":0.5},{"p":"E","f":"150GHz","x":266,"y":0.2},{"p":"E","f":"150GHz","x":269,"y":0.08},{"p":"E","f":"150GHz","x":272,"y":0.06},{"p":"E","f":"150GHz","x":275,"y":0.05},{"p":"E","f":"150GHz","x":279,"y":0.015},{"p":"E","f":"150GHz","x":283,"y":0.01},{"p":"E","f":"150GHz","x":288,"y":0},{"p":"E","f":"150GHz","x":300,"y":0},
      {"p":"E","f":"160GHz","x":-300,"y":0},{"p":"E","f":"160GHz","x":-258,"y":0},{"p":"E","f":"160GHz","x":-254,"y":0.01},{"p":"E","f":"160GHz","x":-251,"y":0.03},{"p":"E","f":"160GHz","x":-249,"y":0.3},{"p":"E","f":"160GHz","x":-247.5,"y":0.8},{"p":"E","f":"160GHz","x":-246,"y":1},{"p":"E","f":"160GHz","x":-244.5,"y":0.8},{"p":"E","f":"160GHz","x":-243,"y":0.3},{"p":"E","f":"160GHz","x":-241,"y":0.05},{"p":"E","f":"160GHz","x":-238,"y":0.01},{"p":"E","f":"160GHz","x":-234,"y":0},{"p":"E","f":"160GHz","x":-5,"y":0},{"p":"E","f":"160GHz","x":0,"y":0.005},{"p":"E","f":"160GHz","x":5,"y":0},{"p":"E","f":"160GHz","x":225,"y":0},{"p":"E","f":"160GHz","x":230,"y":0.01},{"p":"E","f":"160GHz","x":233,"y":0.03},{"p":"E","f":"160GHz","x":236,"y":0.2},{"p":"E","f":"160GHz","x":238.5,"y":0.7},{"p":"E","f":"160GHz","x":241,"y":1},{"p":"E","f":"160GHz","x":243.5,"y":0.7},{"p":"E","f":"160GHz","x":246,"y":0.2},{"p":"E","f":"160GHz","x":249,"y":0.05},{"p":"E","f":"160GHz","x":252,"y":0.03},{"p":"E","f":"160GHz","x":256,"y":0.04},{"p":"E","f":"160GHz","x":259,"y":0.04},{"p":"E","f":"160GHz","x":262,"y":0.01},{"p":"E","f":"160GHz","x":266,"y":0},{"p":"E","f":"160GHz","x":300,"y":0},
      {"p":"E","f":"180GHz","x":-300,"y":0},{"p":"E","f":"180GHz","x":-232,"y":0},{"p":"E","f":"180GHz","x":-228,"y":0.01},{"p":"E","f":"180GHz","x":-224,"y":0.005},{"p":"E","f":"180GHz","x":-221,"y":0.05},{"p":"E","f":"180GHz","x":-219,"y":0.4},{"p":"E","f":"180GHz","x":-217.5,"y":0.95},{"p":"E","f":"180GHz","x":-216.5,"y":1},{"p":"E","f":"180GHz","x":-215,"y":0.85},{"p":"E","f":"180GHz","x":-213.5,"y":0.4},{"p":"E","f":"180GHz","x":-211.5,"y":0.05},{"p":"E","f":"180GHz","x":-209,"y":0.01},{"p":"E","f":"180GHz","x":-205,"y":0.005},{"p":"E","f":"180GHz","x":-200,"y":0},{"p":"E","f":"180GHz","x":-60,"y":0},{"p":"E","f":"180GHz","x":-57,"y":0.01},{"p":"E","f":"180GHz","x":-54,"y":0},{"p":"E","f":"180GHz","x":-5,"y":0},{"p":"E","f":"180GHz","x":0,"y":0.008},{"p":"E","f":"180GHz","x":5,"y":0},{"p":"E","f":"180GHz","x":198,"y":0},{"p":"E","f":"180GHz","x":203,"y":0.01},{"p":"E","f":"180GHz","x":207,"y":0.02},{"p":"E","f":"180GHz","x":210,"y":0.1},{"p":"E","f":"180GHz","x":212,"y":0.6},{"p":"E","f":"180GHz","x":214,"y":0.975},{"p":"E","f":"180GHz","x":216,"y":0.7},{"p":"E","f":"180GHz","x":218,"y":0.2},{"p":"E","f":"180GHz","x":220,"y":0.04},{"p":"E","f":"180GHz","x":224,"y":0.01},{"p":"E","f":"180GHz","x":228,"y":0},{"p":"E","f":"180GHz","x":300,"y":0},
      {"p":"E","f":"200GHz","x":-300,"y":0.003},{"p":"E","f":"200GHz","x":-215,"y":0.003},{"p":"E","f":"200GHz","x":-210,"y":0.01},{"p":"E","f":"200GHz","x":-205,"y":0.005},{"p":"E","f":"200GHz","x":-201,"y":0.05},{"p":"E","f":"200GHz","x":-198,"y":0.4},{"p":"E","f":"200GHz","x":-196,"y":0.9},{"p":"E","f":"200GHz","x":-194.5,"y":1},{"p":"E","f":"200GHz","x":-193,"y":0.9},{"p":"E","f":"200GHz","x":-191,"y":0.4},{"p":"E","f":"200GHz","x":-189,"y":0.06},{"p":"E","f":"200GHz","x":-186,"y":0.02},{"p":"E","f":"200GHz","x":-182,"y":0.01},{"p":"E","f":"200GHz","x":-177,"y":0.005},{"p":"E","f":"200GHz","x":-170,"y":0},{"p":"E","f":"200GHz","x":-70,"y":0},{"p":"E","f":"200GHz","x":-60,"y":0.005},{"p":"E","f":"200GHz","x":-56,"y":0.012},{"p":"E","f":"200GHz","x":-52,"y":0.003},{"p":"E","f":"200GHz","x":-40,"y":0.005},{"p":"E","f":"200GHz","x":-25,"y":0.005},{"p":"E","f":"200GHz","x":-21,"y":0.02},{"p":"E","f":"200GHz","x":-18,"y":0.01},{"p":"E","f":"200GHz","x":-14,"y":0.03},{"p":"E","f":"200GHz","x":-10,"y":0.05},{"p":"E","f":"200GHz","x":-6,"y":0.055},{"p":"E","f":"200GHz","x":0,"y":0.055},{"p":"E","f":"200GHz","x":6,"y":0.055},{"p":"E","f":"200GHz","x":10,"y":0.045},{"p":"E","f":"200GHz","x":14,"y":0.02},{"p":"E","f":"200GHz","x":18,"y":0.01},{"p":"E","f":"200GHz","x":21,"y":0.015},{"p":"E","f":"200GHz","x":25,"y":0.005},{"p":"E","f":"200GHz","x":40,"y":0.003},{"p":"E","f":"200GHz","x":50,"y":0.005},{"p":"E","f":"200GHz","x":60,"y":0.002},{"p":"E","f":"200GHz","x":165,"y":0.003},{"p":"E","f":"200GHz","x":170,"y":0.02},{"p":"E","f":"200GHz","x":173,"y":0.05},{"p":"E","f":"200GHz","x":176,"y":0.04},{"p":"E","f":"200GHz","x":180,"y":0.01},{"p":"E","f":"200GHz","x":184,"y":0.02},{"p":"E","f":"200GHz","x":186,"y":0.2},{"p":"E","f":"200GHz","x":188,"y":0.6},{"p":"E","f":"200GHz","x":190,"y":0.9},{"p":"E","f":"200GHz","x":191.5,"y":0.97},{"p":"E","f":"200GHz","x":193,"y":0.9},{"p":"E","f":"200GHz","x":195,"y":0.5},{"p":"E","f":"200GHz","x":197,"y":0.15},{"p":"E","f":"200GHz","x":199,"y":0.04},{"p":"E","f":"200GHz","x":203,"y":0.01},{"p":"E","f":"200GHz","x":210,"y":0.005},{"p":"E","f":"200GHz","x":300,"y":0.003}
    ]
  },
  "config": {
    "view": {"stroke": "#a0a0a0", "strokeWidth": 1},
    "axis": {
      "domain": false,
      "grid": false,
      "tickColor": "#a0a0a0",
      "tickWidth": 0.8,
      "labelFont": "Liberation Sans",
      "labelFontSize": 12,
      "labelColor": "#1a1a1a",
      "titleFont": "Liberation Sans",
      "titleFontSize": 12,
      "titleFontWeight": "normal",
      "titleColor": "#1a1a1a"
    },
    "title": {
      "font": "Liberation Sans",
      "fontSize": 23,
      "fontWeight": "bold",
      "color": "#000000",
      "anchor": "start",
      "frame": "group",
      "baseline": "top",
      "offset": 0
    },
    "legend": {
      "labelFont": "Liberation Sans",
      "labelFontSize": 12,
      "labelColor": "#1a1a1a",
      "symbolType": "stroke",
      "symbolSize": 169,
      "symbolStrokeWidth": 1.5,
      "labelOffset": 7,
      "rowPadding": 8,
      "padding": 0
    },
    "line": {"strokeWidth": 1.3}
  },
  "resolve": {"scale": {"color": "independent"}, "legend": {"color": "independent"}},
  "spacing": 2,
  "vconcat": [
    {
      "spacing": -15,
      "resolve": {"scale": {"color": "independent"}, "legend": {"color": "independent"}},
      "vconcat": [
        {
          "bounds": "flush",
          "spacing": 54,
          "resolve": {"scale": {"color": "independent"}, "legend": {"color": "independent"}},
          "hconcat": [
            {
              "width": 345, "height": 213,
              "title": {"text": "A", "dx": -38, "dy": 24},
              "resolve": {"axis": {"x": "independent", "y": "independent"}},
              "layer": [
                {"data": {"values": [{"x0": 0}]}, "mark": {"type": "rule", "color": "#d0d0d0", "strokeWidth": 1},
                 "encoding": {"x": {"field": "x0", "type": "quantitative", "scale": {"domain": [-311, 312], "nice": false, "zero": false},
                   "axis": {"orient": "top", "values": [-300,-280,-260,-240,-220,-200,-180,-160,-140,-120,-100,-80,-60,-40,-20,0,20,40,60,80,100,120,140,160,180,200,220,240,260,280,300], "labels": false, "title": null, "tickSize": {"condition": {"test": "datum.value % 100 === 0", "value": -5}, "value": -2.5}}}}},
                {"data": {"values": [{"y0": 0}]}, "mark": {"type": "rule", "color": "#d0d0d0", "strokeWidth": 1},
                 "encoding": {"y": {"field": "y0", "type": "quantitative", "scale": {"domain": [-0.03, 1.047], "nice": false, "zero": false},
                   "axis": {"orient": "right", "values": [0,0.05,0.1,0.15,0.2,0.25,0.3,0.35,0.4,0.45,0.5,0.55,0.6,0.65,0.7,0.75,0.8,0.85,0.9,0.95,1], "labels": false, "title": null, "tickSize": {"condition": {"test": "round(datum.value*20) % 4 === 0", "value": -5}, "value": -2.5}}}}},
                {"data": {"name": "d"}, "transform": [{"filter": "datum.p === 'A'"}], "mark": {"type": "line", "strokeWidth": 1.3},
                 "encoding": {
                   "x": {"field": "x", "type": "quantitative", "scale": {"domain": [-311, 312], "nice": false, "zero": false},
                     "axis": {"orient": "bottom", "values": [-300,-280,-260,-240,-220,-200,-180,-160,-140,-120,-100,-80,-60,-40,-20,0,20,40,60,80,100,120,140,160,180,200,220,240,260,280,300], "labelExpr": "datum.value % 100 === 0 ? datum.label : ''", "tickSize": {"condition": {"test": "datum.value % 100 === 0", "value": -5}, "value": -2.5}, "labelPadding": 7, "title": "x [mm]", "titlePadding": 8}},
                   "y": {"field": "y", "type": "quantitative", "scale": {"domain": [-0.03, 1.047], "nice": false, "zero": false},
                     "axis": {"orient": "left", "values": [0,0.05,0.1,0.15,0.2,0.25,0.3,0.35,0.4,0.45,0.5,0.55,0.6,0.65,0.7,0.75,0.8,0.85,0.9,0.95,1], "format": ".1f", "labelExpr": "round(datum.value*20) % 4 === 0 ? datum.label : ''", "tickSize": {"condition": {"test": "round(datum.value*20) % 4 === 0", "value": -5}, "value": -2.5}, "labelPadding": 8, "title": "Intensity [a.u.]", "titlePadding": 0}},
                   "color": {"field": "f", "type": "nominal", "scale": {"domain": ["150GHz","160GHz","180GHz","200GHz"], "range": ["#5E81B5","#E19C24","#8FB032","#EB6235"]},
                     "legend": {"title": null, "orient": "none", "legendX": 270, "legendY": 14}}
                 }}
              ]
            },
            {
              "width": 342, "height": 213,
              "title": {"text": "B", "dx": -42, "dy": 24},
              "resolve": {"axis": {"x": "independent", "y": "independent"}},
              "layer": [
                {"data": {"values": [{"x0": 0}]}, "mark": {"type": "rule", "color": "#d0d0d0", "strokeWidth": 1},
                 "encoding": {"x": {"field": "x0", "type": "quantitative", "scale": {"domain": [-311, 312], "nice": false, "zero": false},
                   "axis": {"orient": "top", "values": [-300,-280,-260,-240,-220,-200,-180,-160,-140,-120,-100,-80,-60,-40,-20,0,20,40,60,80,100,120,140,160,180,200,220,240,260,280,300], "labels": false, "title": null, "tickSize": {"condition": {"test": "datum.value % 100 === 0", "value": -5}, "value": -2.5}}}}},
                {"data": {"values": [{"y0": 0}]}, "mark": {"type": "rule", "color": "#d0d0d0", "strokeWidth": 1},
                 "encoding": {"y": {"field": "y0", "type": "quantitative", "scale": {"domain": [-0.03, 1.047], "nice": false, "zero": false},
                   "axis": {"orient": "right", "values": [0,0.05,0.1,0.15,0.2,0.25,0.3,0.35,0.4,0.45,0.5,0.55,0.6,0.65,0.7,0.75,0.8,0.85,0.9,0.95,1], "labels": false, "title": null, "tickSize": {"condition": {"test": "round(datum.value*20) % 4 === 0", "value": -5}, "value": -2.5}}}}},
                {"data": {"name": "d"}, "transform": [{"filter": "datum.p === 'B'"}], "mark": {"type": "line", "strokeWidth": 1.3},
                 "encoding": {
                   "x": {"field": "x", "type": "quantitative", "scale": {"domain": [-311, 312], "nice": false, "zero": false},
                     "axis": {"orient": "bottom", "values": [-300,-280,-260,-240,-220,-200,-180,-160,-140,-120,-100,-80,-60,-40,-20,0,20,40,60,80,100,120,140,160,180,200,220,240,260,280,300], "labelExpr": "datum.value % 100 === 0 ? datum.label : ''", "tickSize": {"condition": {"test": "datum.value % 100 === 0", "value": -5}, "value": -2.5}, "labelPadding": 7, "title": "x [mm]", "titlePadding": 8}},
                   "y": {"field": "y", "type": "quantitative", "scale": {"domain": [-0.03, 1.047], "nice": false, "zero": false},
                     "axis": {"orient": "left", "values": [0,0.05,0.1,0.15,0.2,0.25,0.3,0.35,0.4,0.45,0.5,0.55,0.6,0.65,0.7,0.75,0.8,0.85,0.9,0.95,1], "format": ".1f", "labelExpr": "round(datum.value*20) % 4 === 0 ? datum.label : ''", "tickSize": {"condition": {"test": "round(datum.value*20) % 4 === 0", "value": -5}, "value": -2.5}, "labelPadding": 8, "title": "Intensity [a.u.]", "titlePadding": 0}},
                   "color": {"field": "f", "type": "nominal", "scale": {"domain": ["150GHz","160GHz","180GHz","200GHz"], "range": ["#5E81B5","#E19C24","#8FB032","#EB6235"]},
                     "legend": {"title": null, "orient": "none", "legendX": 270, "legendY": 14}}
                 }}
              ]
            }
          ]
        },
        {
          "bounds": "flush",
          "spacing": 54,
          "resolve": {"scale": {"color": "independent"}, "legend": {"color": "independent"}},
          "hconcat": [
            {
              "width": 345, "height": 213,
              "title": {"text": "C", "dx": -38, "dy": 4},
              "resolve": {"axis": {"x": "independent", "y": "independent"}},
              "layer": [
                {"data": {"values": [{"x0": 0}]}, "mark": {"type": "rule", "color": "#d0d0d0", "strokeWidth": 1},
                 "encoding": {"x": {"field": "x0", "type": "quantitative", "scale": {"domain": [-311, 312], "nice": false, "zero": false},
                   "axis": {"orient": "top", "values": [-300,-280,-260,-240,-220,-200,-180,-160,-140,-120,-100,-80,-60,-40,-20,0,20,40,60,80,100,120,140,160,180,200,220,240,260,280,300], "labels": false, "title": null, "tickSize": {"condition": {"test": "datum.value % 100 === 0", "value": -5}, "value": -2.5}}}}},
                {"data": {"values": [{"y0": 0}]}, "mark": {"type": "rule", "color": "#d0d0d0", "strokeWidth": 1},
                 "encoding": {"y": {"field": "y0", "type": "quantitative", "scale": {"domain": [-0.03, 1.047], "nice": false, "zero": false},
                   "axis": {"orient": "right", "values": [0,0.05,0.1,0.15,0.2,0.25,0.3,0.35,0.4,0.45,0.5,0.55,0.6,0.65,0.7,0.75,0.8,0.85,0.9,0.95,1], "labels": false, "title": null, "tickSize": {"condition": {"test": "round(datum.value*20) % 4 === 0", "value": -5}, "value": -2.5}}}}},
                {"data": {"name": "d"}, "transform": [{"filter": "datum.p === 'C'"}], "mark": {"type": "line", "strokeWidth": 1.3},
                 "encoding": {
                   "x": {"field": "x", "type": "quantitative", "scale": {"domain": [-311, 312], "nice": false, "zero": false},
                     "axis": {"orient": "bottom", "values": [-300,-280,-260,-240,-220,-200,-180,-160,-140,-120,-100,-80,-60,-40,-20,0,20,40,60,80,100,120,140,160,180,200,220,240,260,280,300], "labelExpr": "datum.value % 100 === 0 ? datum.label : ''", "tickSize": {"condition": {"test": "datum.value % 100 === 0", "value": -5}, "value": -2.5}, "labelPadding": 7, "title": "x [mm]", "titlePadding": 8}},
                   "y": {"field": "y", "type": "quantitative", "scale": {"domain": [-0.03, 1.047], "nice": false, "zero": false},
                     "axis": {"orient": "left", "values": [0,0.05,0.1,0.15,0.2,0.25,0.3,0.35,0.4,0.45,0.5,0.55,0.6,0.65,0.7,0.75,0.8,0.85,0.9,0.95,1], "format": ".1f", "labelExpr": "round(datum.value*20) % 4 === 0 ? datum.label : ''", "tickSize": {"condition": {"test": "round(datum.value*20) % 4 === 0", "value": -5}, "value": -2.5}, "labelPadding": 8, "title": "Intensity [a.u.]", "titlePadding": 0}},
                   "color": {"field": "f", "type": "nominal", "scale": {"domain": ["150GHz","160GHz","170GHz","180GHz","190GHz","200GHz","210GHz","220GHz"], "range": ["#5E81B5","#E19C24","#8FB032","#EB6235","#8778B3","#C56E1A","#5D9EC7","#FFBF00"]},
                     "legend": {"title": null, "orient": "none", "legendX": 270, "legendY": 14}}
                 }}
              ]
            },
            {
              "width": 342, "height": 213,
              "title": {"text": "D", "dx": -42, "dy": 4},
              "resolve": {"axis": {"x": "independent", "y": "independent"}},
              "layer": [
                {"data": {"values": [{"x0": 0}]}, "mark": {"type": "rule", "color": "#d0d0d0", "strokeWidth": 1},
                 "encoding": {"x": {"field": "x0", "type": "quantitative", "scale": {"domain": [-311, 312], "nice": false, "zero": false},
                   "axis": {"orient": "top", "values": [-300,-280,-260,-240,-220,-200,-180,-160,-140,-120,-100,-80,-60,-40,-20,0,20,40,60,80,100,120,140,160,180,200,220,240,260,280,300], "labels": false, "title": null, "tickSize": {"condition": {"test": "datum.value % 100 === 0", "value": -5}, "value": -2.5}}}}},
                {"data": {"values": [{"y0": 0}]}, "mark": {"type": "rule", "color": "#d0d0d0", "strokeWidth": 1},
                 "encoding": {"y": {"field": "y0", "type": "quantitative", "scale": {"domain": [-0.03, 1.047], "nice": false, "zero": false},
                   "axis": {"orient": "right", "values": [0,0.05,0.1,0.15,0.2,0.25,0.3,0.35,0.4,0.45,0.5,0.55,0.6,0.65,0.7,0.75,0.8,0.85,0.9,0.95,1], "labels": false, "title": null, "tickSize": {"condition": {"test": "round(datum.value*20) % 4 === 0", "value": -5}, "value": -2.5}}}}},
                {"data": {"name": "d"}, "transform": [{"filter": "datum.p === 'D'"}], "mark": {"type": "line", "strokeWidth": 1.3},
                 "encoding": {
                   "x": {"field": "x", "type": "quantitative", "scale": {"domain": [-311, 312], "nice": false, "zero": false},
                     "axis": {"orient": "bottom", "values": [-300,-280,-260,-240,-220,-200,-180,-160,-140,-120,-100,-80,-60,-40,-20,0,20,40,60,80,100,120,140,160,180,200,220,240,260,280,300], "labelExpr": "datum.value % 100 === 0 ? datum.label : ''", "tickSize": {"condition": {"test": "datum.value % 100 === 0", "value": -5}, "value": -2.5}, "labelPadding": 7, "title": "x [mm]", "titlePadding": 8}},
                   "y": {"field": "y", "type": "quantitative", "scale": {"domain": [-0.03, 1.047], "nice": false, "zero": false},
                     "axis": {"orient": "left", "values": [0,0.05,0.1,0.15,0.2,0.25,0.3,0.35,0.4,0.45,0.5,0.55,0.6,0.65,0.7,0.75,0.8,0.85,0.9,0.95,1], "format": ".1f", "labelExpr": "round(datum.value*20) % 4 === 0 ? datum.label : ''", "tickSize": {"condition": {"test": "round(datum.value*20) % 4 === 0", "value": -5}, "value": -2.5}, "labelPadding": 8, "title": "Intensity [a.u.]", "titlePadding": 0}},
                   "color": {"field": "f", "type": "nominal", "scale": {"domain": ["150GHz","160GHz","180GHz","200GHz"], "range": ["#5E81B5","#E19C24","#8FB032","#EB6235"]},
                     "legend": {"title": null, "orient": "none", "legendX": 270, "legendY": 14}}
                 }}
              ]
            }
          ]
        }
      ]
    },
    {
      "bounds": "flush",
      "spacing": 0,
      "resolve": {"scale": {"color": "independent"}, "legend": {"color": "independent"}},
      "hconcat": [
        {"width": 204, "height": 213, "data": {"values": []}, "mark": "point", "view": {"stroke": null}},
        {
          "width": 343, "height": 213,
          "title": {"text": "E", "dx": -35, "dy": 22},
          "resolve": {"axis": {"x": "independent", "y": "independent"}},
          "layer": [
            {"data": {"values": [{"x0": 0}]}, "mark": {"type": "rule", "color": "#d0d0d0", "strokeWidth": 1},
             "encoding": {"x": {"field": "x0", "type": "quantitative", "scale": {"domain": [-312, 312], "nice": false, "zero": false},
               "axis": {"orient": "top", "values": [-300,-280,-260,-240,-220,-200,-180,-160,-140,-120,-100,-80,-60,-40,-20,0,20,40,60,80,100,120,140,160,180,200,220,240,260,280,300], "labels": false, "title": null, "tickSize": {"condition": {"test": "datum.value % 100 === 0", "value": -5}, "value": -2.5}}}}},
            {"data": {"values": [{"y0": 0}]}, "mark": {"type": "rule", "color": "#d0d0d0", "strokeWidth": 1},
             "encoding": {"y": {"field": "y0", "type": "quantitative", "scale": {"domain": [-0.03, 1.047], "nice": false, "zero": false},
               "axis": {"orient": "right", "values": [0,0.05,0.1,0.15,0.2,0.25,0.3,0.35,0.4,0.45,0.5,0.55,0.6,0.65,0.7,0.75,0.8,0.85,0.9,0.95,1], "labels": false, "title": null, "tickSize": {"condition": {"test": "round(datum.value*20) % 4 === 0", "value": -5}, "value": -2.5}}}}},
            {"data": {"name": "d"}, "transform": [{"filter": "datum.p === 'E'"}], "mark": {"type": "line", "strokeWidth": 1.3},
             "encoding": {
               "x": {"field": "x", "type": "quantitative", "scale": {"domain": [-312, 312], "nice": false, "zero": false},
                 "axis": {"orient": "bottom", "values": [-300,-280,-260,-240,-220,-200,-180,-160,-140,-120,-100,-80,-60,-40,-20,0,20,40,60,80,100,120,140,160,180,200,220,240,260,280,300], "labelExpr": "datum.value % 100 === 0 ? datum.label : ''", "tickSize": {"condition": {"test": "datum.value % 100 === 0", "value": -5}, "value": -2.5}, "labelPadding": 7, "title": "x [mm]", "titlePadding": 8}},
               "y": {"field": "y", "type": "quantitative", "scale": {"domain": [-0.03, 1.047], "nice": false, "zero": false},
                 "axis": {"orient": "left", "values": [0,0.05,0.1,0.15,0.2,0.25,0.3,0.35,0.4,0.45,0.5,0.55,0.6,0.65,0.7,0.75,0.8,0.85,0.9,0.95,1], "format": ".1f", "labelExpr": "round(datum.value*20) % 4 === 0 ? datum.label : ''", "tickSize": {"condition": {"test": "round(datum.value*20) % 4 === 0", "value": -5}, "value": -2.5}, "labelPadding": 8, "title": "Intensity [a.u.]", "titlePadding": 0}},
               "color": {"field": "f", "type": "nominal", "scale": {"domain": ["150GHz","160GHz","180GHz","200GHz"], "range": ["#5E81B5","#E19C24","#8FB032","#EB6235"]},
                 "legend": {"title": null, "orient": "none", "legendX": 180, "legendY": 14}}
             }}
          ]
        }
      ]
    }
  ]
}
